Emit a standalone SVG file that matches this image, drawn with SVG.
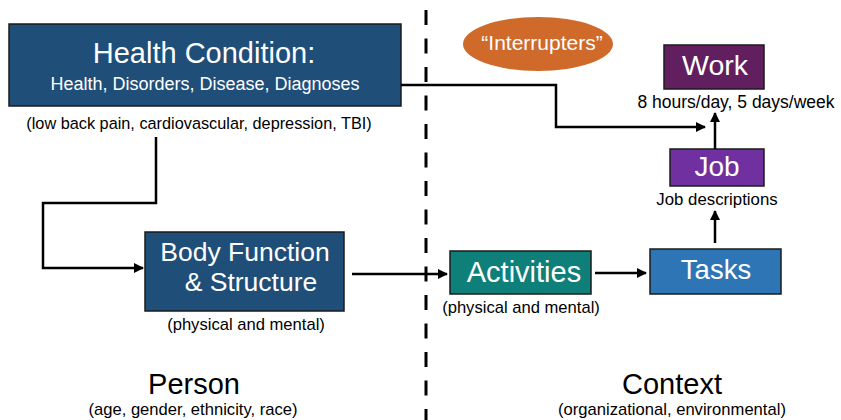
<svg xmlns="http://www.w3.org/2000/svg" width="841" height="420" viewBox="0 0 841 420">
  <style>
    text { font-family: "Liberation Sans", Arial, sans-serif; text-anchor: middle; }
    .box { stroke: #1b1b1b; stroke-width: 1.5; }
    .w { fill: #ffffff; }
    .k { fill: #000000; }
    .conn { fill: none; stroke: #000000; stroke-width: 2.5; }
  </style>
  <defs>
    <marker id="arrow" viewBox="0 0 10 10" refX="9" refY="5" markerWidth="4" markerHeight="4" orient="auto" markerUnits="strokeWidth">
      <path d="M0,0 L10,5 L0,10 Z" fill="#000000"/>
    </marker>
  </defs>

  <!-- divider between person and context -->
  <line x1="426" y1="0" x2="426" y2="420" stroke="#000000" stroke-width="3" stroke-dasharray="15,13.5" stroke-dashoffset="18.5"/>

  <g id="health-condition">
    <rect class="box" x="9" y="24" width="392" height="82" fill="#1F4E79"/>
    <text class="w" x="204" y="63" font-size="29">Health Condition:</text>
    <text class="w" x="205" y="90" font-size="18">Health, Disorders, Disease, Diagnoses</text>
    <text class="k" x="199" y="129" font-size="16.3">(low back pain, cardiovascular, depression, TBI)</text>
  </g>

  <g id="interrupters">
    <ellipse cx="538" cy="44" rx="75" ry="27" fill="#CF6A2A"/>
    <text class="w" x="542" y="50" font-size="21">“Interrupters”</text>
  </g>

  <g id="work">
    <rect class="box" x="664" y="45" width="100" height="44" fill="#611F5F"/>
    <text class="w" x="715" y="75" font-size="28.5">Work</text>
    <text class="k" x="736" y="108" font-size="17.5">8 hours/day, 5 days/week</text>
  </g>

  <g id="job">
    <rect class="box" x="670" y="149" width="94" height="37" fill="#7030A0"/>
    <text class="w" x="717" y="176" font-size="28">Job</text>
    <text class="k" x="717" y="205" font-size="16.8">Job descriptions</text>
  </g>

  <g id="tasks">
    <rect class="box" x="650" y="249" width="131" height="45" fill="#2E75B6"/>
    <text class="w" x="716" y="279" font-size="27.5">Tasks</text>
  </g>

  <g id="activities">
    <rect class="box" x="450" y="251" width="141" height="43" fill="#0F7F7A"/>
    <text class="w" x="524" y="282" font-size="29">Activities</text>
    <text class="k" x="521" y="313" font-size="16.6">(physical and mental)</text>
  </g>

  <g id="body-function">
    <rect class="box" x="145" y="232" width="199" height="79" fill="#1F4E79"/>
    <text class="w" x="245" y="261" font-size="26.5">Body Function</text>
    <text class="w" x="251" y="291" font-size="26.5">&amp; Structure</text>
    <text class="k" x="246" y="330" font-size="16.6">(physical and mental)</text>
  </g>

  <g id="person">
    <text class="k" x="194" y="394" font-size="29">Person</text>
    <text class="k" x="193" y="415" font-size="16.6">(age, gender, ethnicity, race)</text>
  </g>

  <g id="context">
    <text class="k" x="672" y="394" font-size="29">Context</text>
    <text class="k" x="672" y="415" font-size="16.6">(organizational, environmental)</text>
  </g>

  <g id="connectors">
    <polyline class="conn" points="401,85 556,85 556,127 705,127" marker-end="url(#arrow)"/>
    <polyline class="conn" points="156,137 156,203 43,203 43,268 143,268" marker-end="url(#arrow)"/>
    <line class="conn" x1="352" y1="274" x2="447" y2="274" marker-end="url(#arrow)"/>
    <line class="conn" x1="595" y1="273" x2="646" y2="273" marker-end="url(#arrow)"/>
    <line class="conn" x1="715" y1="243" x2="715" y2="211" marker-end="url(#arrow)"/>
    <line class="conn" x1="715" y1="149" x2="715" y2="113" marker-end="url(#arrow)"/>
  </g>
</svg>
